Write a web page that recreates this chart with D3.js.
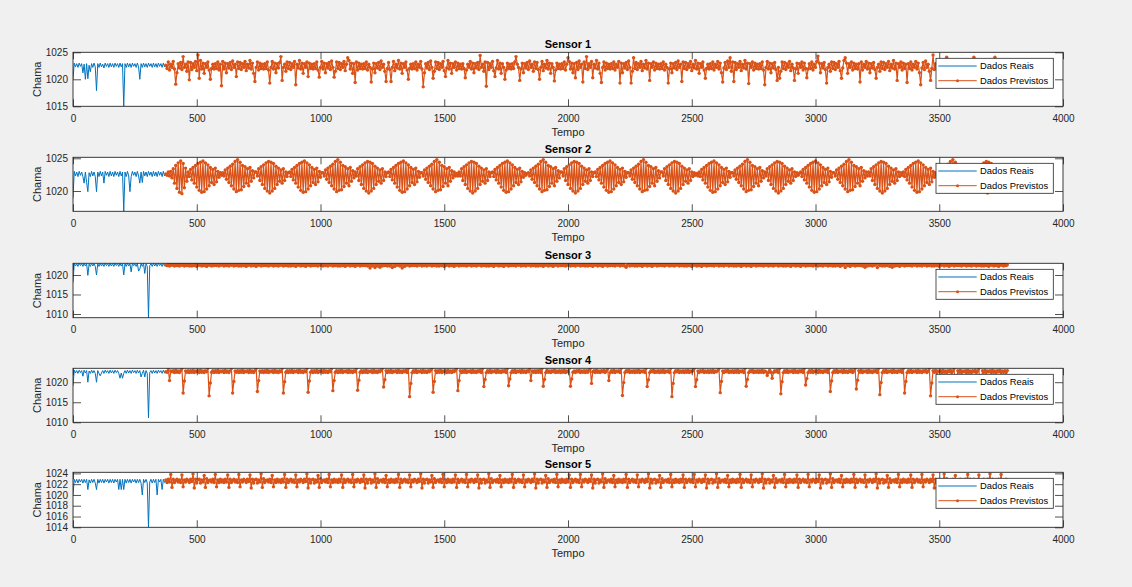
<!DOCTYPE html>
<html><head><meta charset="utf-8">
<script src="https://cdn.jsdelivr.net/npm/d3@7"></script>
<style>body{margin:0;background:#f0f0f0}svg{display:block}</style>
</head><body><svg id="c" width="1132" height="587"></svg>
<script>
// ---------- data ----------
const sensorNames = ["Sensor 1","Sensor 2","Sensor 3","Sensor 4","Sensor 5"];
const xTicks = [0,500,1000,1500,2000,2500,3000,3500,4000];
const yDomains = [[1015,1025],[1016.9,1025.15],[1009.05,1023.0],[1010,1023.47],[1014,1024.2]];
const yTicks = [[1015,1020,1025],[1020,1025],[1010,1015,1020],[1010,1015,1020],[1014,1016,1018,1020,1022,1024]];
const legendLabels = ["Dados Reais","Dados Previstos"];
const xLabel = "Tempo", yLabel = "Chama";
const realStart = 0, realStep = 5;     // time of real samples
const predStart = 375, predStep = 5;   // time of predicted samples

const s1Real = [1020.0,1023.0,1022.3,1022.9,1022.2,1023.0,1022.4,1022.9,1021.2,1022.8,
 1020.0,1022.9,1020.1,1022.6,1021.4,1022.9,1022.2,1023.0,1022.3,1017.9,
 1022.9,1022.2,1023.0,1022.3,1022.8,1022.1,1023.0,1022.4,1022.9,1022.2,
 1023.0,1022.3,1022.9,1022.2,1023.0,1022.4,1022.9,1022.2,1023.0,1022.3,
 1022.9,1015.0,1022.9,1022.2,1023.0,1022.3,1022.9,1022.2,1023.0,1022.4,
 1022.9,1022.2,1023.0,1022.3,1020.0,1022.9,1022.2,1023.0,1022.3,1022.9,
 1022.2,1023.0,1022.4,1022.9,1022.2,1023.0,1022.3,1022.9,1022.2,1023.0,
 1022.4,1022.9,1022.2,1023.0,1022.3,1022.6];
const s2Real = [1018.9,1023.0,1022.3,1022.9,1022.2,1023.0,1022.4,1022.9,1022.2,1021.2,
 1022.9,1021.3,1019.9,1022.8,1022.2,1023.0,1022.3,1022.9,1022.2,1019.9,
 1022.9,1022.2,1023.0,1022.3,1022.9,1021.2,1023.0,1022.4,1022.9,1022.2,
 1023.0,1022.3,1022.9,1022.2,1023.0,1022.4,1022.9,1022.2,1023.0,1022.3,
 1022.9,1016.9,1022.9,1022.2,1023.0,1022.3,1019.9,1022.2,1023.0,1022.4,
 1022.9,1022.2,1023.0,1022.3,1021.2,1022.9,1021.3,1023.0,1022.3,1022.9,
 1022.2,1023.0,1022.4,1022.9,1022.2,1023.0,1022.3,1022.9,1022.2,1023.0,
 1022.4,1022.9,1022.2,1023.0,1022.3,1022.6];
const s3Real = [1018.1,1023.0,1022.3,1022.9,1022.2,1023.0,1022.4,1022.9,1022.2,1023.0,
 1022.3,1022.9,1019.9,1022.8,1022.2,1023.0,1022.3,1022.9,1022.2,1020.0,
 1022.9,1022.2,1023.0,1022.3,1022.9,1022.2,1023.0,1022.4,1022.9,1022.2,
 1023.0,1022.3,1022.9,1022.2,1023.0,1022.4,1022.9,1022.2,1023.0,1022.3,
 1022.9,1020.0,1022.9,1022.2,1023.0,1022.3,1022.9,1020.8,1023.0,1022.4,
 1022.9,1022.2,1023.0,1021.0,1021.5,1022.9,1022.2,1023.0,1020.4,1022.9,
 1022.2,1009.1,1022.4,1022.9,1022.2,1023.0,1022.3,1022.9,1022.2,1023.0,
 1022.4,1022.9,1022.2,1023.0,1022.3,1022.6];
const s4Real = [1019.1,1023.0,1022.3,1022.9,1022.2,1023.0,1022.4,1022.9,1021.5,1023.0,
 1022.3,1022.9,1020.0,1022.8,1022.2,1023.0,1022.3,1022.9,1022.2,1020.0,
 1022.9,1022.2,1021.6,1022.3,1022.9,1022.2,1023.0,1022.4,1022.9,1022.2,
 1023.0,1022.3,1022.9,1022.2,1023.0,1022.4,1022.9,1022.2,1021.0,1022.3,
 1021.0,1022.2,1022.9,1022.2,1023.0,1022.3,1022.9,1022.2,1023.0,1022.4,
 1022.9,1022.2,1023.0,1022.3,1022.9,1021.3,1022.2,1023.0,1021.3,1022.9,
 1022.2,1011.1,1022.4,1022.9,1022.2,1023.0,1022.3,1022.9,1022.2,1023.0,
 1022.4,1022.9,1022.2,1023.0,1022.3,1022.6];
const s5Real = [1020.0,1022.9,1022.3,1022.9,1022.2,1022.9,1022.4,1022.9,1022.2,1022.9,
 1022.3,1022.9,1021.0,1022.8,1022.2,1022.9,1022.3,1022.9,1022.2,1021.0,
 1022.9,1022.2,1022.9,1022.3,1022.9,1022.2,1022.9,1022.4,1022.9,1022.2,
 1022.9,1022.3,1022.9,1022.2,1022.9,1022.4,1022.9,1021.0,1022.9,1021.0,
 1022.9,1021.0,1022.9,1022.2,1022.9,1022.3,1022.9,1022.2,1022.9,1022.4,
 1022.9,1022.2,1022.9,1022.3,1022.9,1022.2,1020.0,1022.9,1022.3,1022.9,
 1022.2,1014.0,1022.4,1022.9,1022.2,1022.9,1022.3,1022.9,1020.0,1022.9,
 1022.4,1022.9,1021.0,1022.9,1022.3,1022.6];

const s1Pred = [
 1022.6,1022.0,1023.2,1021.7,1022.8,1022.2,1023.3,1021.9,1019.1,1021.2,1022.9,1022.1,1023.1,1021.8,1024.2,1022.2,1022.8,1021.5,1023.2,1019.9,
 1023.1,1021.8,1022.9,1022.2,1023.3,1021.6,1024.5,1020.2,1023.5,1021.9,1023.0,1021.1,1022.9,1022.2,1023.2,1021.7,1020.0,1022.0,1022.8,1021.9,
 1022.9,1022.0,1023.2,1021.7,1022.8,1018.8,1023.3,1021.9,1023.0,1021.2,1022.9,1022.1,1023.1,1021.8,1023.4,1022.2,1022.8,1020.5,1023.2,1022.0,
 1023.1,1021.8,1022.9,1022.2,1023.3,1021.6,1022.8,1022.1,1023.5,1021.9,1023.0,1021.1,1019.6,1022.2,1023.2,1021.7,1023.0,1022.0,1022.8,1021.9,
 1022.9,1022.0,1023.2,1021.7,1019.3,1022.2,1023.3,1021.9,1023.0,1021.2,1022.9,1022.1,1023.1,1024.2,1019.8,1022.2,1022.8,1021.5,1023.2,1022.0,
 1023.1,1021.8,1022.9,1022.2,1023.3,1019.0,1022.8,1022.1,1023.5,1021.9,1023.0,1021.1,1022.9,1022.2,1023.2,1020.5,1023.0,1022.0,1022.8,1021.9,
 1022.9,1022.0,1023.2,1021.7,1020.4,1022.2,1023.3,1021.9,1023.0,1021.2,1022.9,1022.1,1023.1,1021.8,1023.4,1022.2,1020.4,1021.5,1023.2,1022.0,
 1023.1,1021.8,1022.9,1022.2,1023.3,1021.6,1022.8,1024.0,1023.5,1021.9,1023.0,1021.1,1022.9,1019.4,1023.2,1021.7,1023.0,1022.0,1022.8,1021.9,
 1022.9,1022.0,1023.2,1021.7,1022.8,1022.2,1019.5,1021.9,1023.0,1021.2,1022.9,1022.1,1023.1,1021.8,1023.4,1022.2,1022.8,1021.5,1019.6,1022.0,
 1023.1,1021.8,1019.6,1022.2,1023.3,1021.6,1022.8,1022.1,1023.5,1021.9,1023.0,1021.1,1022.9,1022.2,1023.2,1021.7,1020.0,1022.0,1022.8,1021.9,
 1022.9,1022.0,1023.2,1021.7,1022.8,1022.2,1023.3,1021.9,1018.6,1021.2,1022.9,1022.1,1023.1,1021.8,1023.4,1022.2,1020.2,1021.5,1023.2,1022.0,
 1023.1,1021.8,1022.9,1022.2,1023.3,1021.6,1020.5,1022.1,1023.5,1021.9,1023.0,1021.1,1022.9,1022.2,1023.2,1021.7,1023.0,1022.0,1022.8,1021.9,
 1022.9,1022.0,1020.3,1021.7,1022.8,1022.2,1023.3,1021.9,1023.0,1021.2,1022.9,1022.1,1023.1,1021.8,1024.4,1022.2,1022.8,1021.5,1023.2,1018.7,
 1023.1,1021.8,1022.9,1022.2,1023.3,1021.6,1020.5,1022.1,1023.5,1021.9,1023.0,1021.1,1022.9,1022.2,1020.0,1021.7,1023.0,1022.0,1022.8,1021.9,
 1022.9,1022.0,1023.2,1024.2,1022.8,1022.2,1019.8,1021.9,1023.0,1021.2,1022.9,1022.1,1023.1,1021.8,1023.4,1022.2,1022.8,1021.5,1023.2,1022.0,
 1023.1,1021.8,1020.0,1022.2,1023.3,1021.6,1022.8,1022.1,1023.5,1021.9,1023.0,1021.1,1022.9,1022.2,1019.7,1021.7,1023.0,1022.0,1022.8,1021.9,
 1022.9,1022.0,1023.2,1021.7,1022.8,1024.0,1023.3,1021.9,1023.0,1021.2,1022.9,1020.3,1023.1,1021.8,1023.4,1022.2,1022.8,1019.5,1023.2,1022.0,
 1024.2,1021.8,1022.9,1022.2,1023.3,1020.3,1022.8,1022.1,1023.5,1021.9,1023.0,1021.1,1019.4,1022.2,1023.2,1021.7,1023.0,1022.0,1022.8,1021.9,
 1022.9,1022.0,1023.2,1021.7,1022.8,1022.2,1023.3,1019.3,1023.0,1021.2,1022.9,1022.1,1023.1,1021.8,1023.4,1022.2,1019.3,1021.5,1024.0,1022.0,
 1023.1,1021.8,1022.9,1022.2,1023.3,1021.6,1022.8,1022.1,1023.5,1021.9,1023.0,1019.8,1022.9,1022.2,1023.2,1021.7,1023.0,1022.0,1022.8,1021.9,
 1022.9,1022.0,1023.2,1021.7,1022.8,1022.2,1019.3,1021.9,1023.0,1021.2,1022.9,1022.1,1023.1,1021.8,1023.4,1022.2,1022.8,1019.6,1023.2,1022.0,
 1023.1,1021.8,1022.9,1022.2,1023.3,1021.6,1022.8,1022.1,1023.5,1021.9,1023.0,1021.1,1022.9,1022.2,1023.2,1021.7,1020.2,1022.0,1022.8,1021.9,
 1022.9,1022.0,1023.2,1021.7,1022.8,1022.2,1023.3,1021.9,1023.0,1021.2,1019.5,1022.1,1023.1,1021.8,1023.4,1022.2,1024.0,1021.5,1023.2,1019.6,
 1023.1,1021.8,1022.9,1022.2,1023.3,1021.6,1022.8,1022.1,1023.5,1021.9,1023.0,1019.2,1022.9,1022.2,1023.2,1021.7,1023.0,1022.0,1022.8,1021.9,
 1022.9,1022.0,1023.2,1021.7,1019.0,1022.2,1023.3,1021.9,1023.0,1021.2,1022.9,1022.1,1023.1,1021.8,1019.8,1022.2,1020.2,1021.5,1023.2,1022.0,
 1023.1,1021.8,1022.9,1022.2,1023.3,1021.6,1022.8,1022.1,1019.8,1021.9,1023.0,1021.1,1022.9,1022.2,1023.2,1021.7,1023.0,1022.0,1020.3,1021.9,
 1022.9,1022.0,1023.2,1021.7,1022.8,1022.2,1023.3,1024.3,1023.0,1021.2,1022.9,1022.1,1023.1,1021.8,1019.3,1022.2,1022.8,1021.5,1023.2,1022.0,
 1023.1,1021.8,1022.9,1022.2,1023.3,1021.6,1020.2,1022.1,1023.5,1024.0,1023.0,1021.1,1022.9,1022.2,1023.2,1021.7,1023.0,1022.0,1022.8,1021.9,
 1022.9,1019.5,1023.2,1021.7,1022.8,1022.2,1023.3,1021.9,1023.0,1021.2,1022.9,1022.1,1023.1,1021.8,1020.2,1022.2,1022.8,1021.5,1023.2,1022.0,
 1023.1,1021.8,1022.9,1022.2,1023.3,1021.6,1022.8,1022.1,1023.5,1021.9,1023.0,1019.8,1022.9,1022.2,1023.2,1021.7,1023.0,1022.0,1022.8,1019.4,
 1022.9,1022.0,1023.2,1021.7,1022.8,1022.2,1023.3,1021.9,1023.0,1021.2,1019.0,1022.1,1023.1,1021.8,1023.4,1022.2,1022.8,1021.5,1019.8,1022.0,
 1024.5,1021.8,1022.9,1022.2,1023.3,1021.6,1022.8,1022.1,1023.5,1021.9,1023.0,1024.1,1019.5,1022.2,1023.2,1021.7,1023.0,1022.0,1022.8,1021.9,
 1022.9,1022.0,1023.2,1021.7,1022.8,1019.7,1023.3,1021.9,1023.0,1021.2,1022.9,1022.1,1023.1,1024.1,1023.4,1022.2,1022.8,1021.5,1023.2,1022.0,
 1023.1,1019.6,1022.9,1022.2,1023.3,1021.6,1022.8,1022.1,1023.5,1021.9,1024.1,1021.1,1022.9,1019.4,1023.2,1021.7,1023.0,1022.0,1022.8,1021.9,
 1022.6];

const s2Pred = [
 1022.6,1022.4,1022.9,1022.3,1023.0,1022.0,1023.4,1021.2,1023.9,1020.4,1024.3,1019.8,1024.6,1019.6,1024.2,1020.5,1023.5,1021.5,
 1022.9,1022.2,1023.3,1021.7,1023.6,1021.2,1023.9,1020.6,1024.2,1020.1,1024.4,1019.8,1024.6,1019.9,1024.3,1020.3,1024.0,1020.8,1023.6,1021.3,1023.3,1021.0,1023.5,1021.4,1023.0,1022.1,1022.8,1022.4,
 1022.8,1022.3,1023.2,1021.8,1023.5,1021.3,1023.8,1020.8,1024.1,1020.3,1024.5,1019.9,1024.8,1020.1,1024.4,1020.2,1023.9,1020.7,1023.7,1021.2,1023.4,1020.8,1023.6,1021.5,1023.1,1022.0,1022.9,
 1022.9,1022.3,1023.4,1021.6,1023.7,1021.0,1024.0,1020.4,1024.3,1020.0,1024.5,1019.7,1024.4,1020.0,1024.2,1020.4,1023.8,1021.0,1023.5,1021.5,1023.2,1021.2,1023.4,1021.6,1022.9,1022.2,1022.8,
 1022.9,1022.2,1023.3,1021.7,1023.6,1021.2,1023.9,1020.6,1024.2,1020.1,1024.4,1019.8,1024.6,1019.9,1024.3,1020.3,1024.0,1020.8,1023.6,1021.3,1023.3,1021.0,1023.5,1021.4,1023.0,1022.1,1022.8,
 1022.8,1022.3,1023.2,1021.8,1023.5,1021.3,1023.8,1020.8,1024.1,1020.3,1024.5,1019.9,1024.8,1020.1,1024.4,1020.2,1023.9,1020.7,1023.7,1021.2,1023.4,1020.8,1023.6,1021.5,1023.1,1022.0,
 1022.9,1022.3,1023.4,1021.6,1023.7,1021.0,1024.0,1020.4,1024.3,1020.0,1024.5,1019.7,1024.4,1020.0,1024.2,1020.4,1023.8,1021.0,1023.5,1021.5,1023.2,1021.2,1023.4,1021.6,1022.9,1022.2,1022.8,
 1022.9,1022.2,1023.3,1021.7,1023.6,1021.2,1023.9,1020.6,1024.2,1020.1,1024.4,1019.8,1024.6,1019.9,1024.3,1020.3,1024.0,1020.8,1023.6,1021.3,1023.3,1021.0,1023.5,1021.4,1023.0,1022.1,1022.8,
 1022.8,1022.3,1023.2,1021.8,1023.5,1021.3,1023.8,1020.8,1024.1,1020.3,1024.5,1019.9,1024.8,1020.1,1024.4,1020.2,1023.9,1020.7,1023.7,1021.2,1023.4,1020.8,1023.6,1021.5,1023.1,1022.0,1022.9,1022.3,1022.7,1022.3,
 1022.9,1022.3,1023.4,1021.6,1023.7,1021.0,1024.0,1020.4,1024.3,1020.0,1024.5,1019.7,1024.4,1020.0,1024.2,1020.4,1023.8,1021.0,1023.5,1021.5,1023.2,1021.2,1023.4,1021.6,1022.9,1022.2,1022.8,
 1022.9,1022.2,1023.3,1021.7,1023.6,1021.2,1023.9,1020.6,1024.2,1020.1,1024.4,1019.8,1024.6,1019.9,1024.3,1020.3,1024.0,1020.8,1023.6,1021.3,1023.3,1021.0,1023.5,1021.4,1023.0,1022.1,1022.8,1022.4,1022.7,
 1022.8,1022.3,1023.2,1021.8,1023.5,1021.3,1023.8,1020.8,1024.1,1020.3,1024.5,1019.9,1024.8,1020.1,1024.4,1020.2,1023.9,1020.7,1023.7,1021.2,1023.4,1020.8,1023.6,1021.5,1023.1,1022.0,1022.9,
 1022.9,1022.3,1023.4,1021.6,1023.7,1021.0,1024.0,1020.4,1024.3,1020.0,1024.5,1019.7,1024.4,1020.0,1024.2,1020.4,1023.8,1021.0,1023.5,1021.5,1023.2,1021.2,1023.4,1021.6,1022.9,1022.2,1022.8,
 1022.9,1022.2,1023.3,1021.7,1023.6,1021.2,1023.9,1020.6,1024.2,1020.1,1024.4,1019.8,1024.6,1019.9,1024.3,1020.3,1024.0,1020.8,1023.6,1021.3,1023.3,1021.0,1023.5,1021.4,1023.0,1022.1,1022.8,
 1022.8,1022.3,1023.2,1021.8,1023.5,1021.3,1023.8,1020.8,1024.1,1020.3,1024.5,1019.9,1024.8,1020.1,1024.4,1020.2,1023.9,1020.7,1023.7,1021.2,1023.4,1020.8,1023.6,1021.5,1023.1,1022.0,1022.9,
 1022.9,1022.3,1023.4,1021.6,1023.7,1021.0,1024.0,1020.4,1024.3,1020.0,1024.5,1019.7,1024.4,1020.0,1024.2,1020.4,1023.8,1021.0,1023.5,1021.5,1023.2,1021.2,1023.4,1021.6,1022.9,1022.2,1022.8,1022.4,1022.7,1022.3,
 1022.9,1022.2,1023.3,1021.7,1023.6,1021.2,1023.9,1020.6,1024.2,1020.1,1024.4,1019.8,1024.6,1019.9,1024.3,1020.3,1024.0,1020.8,1023.6,1021.3,1023.3,1021.0,1023.5,1021.4,1023.0,1022.1,1022.8,
 1022.8,1022.3,1023.2,1021.8,1023.5,1021.3,1023.8,1020.8,1024.1,1020.3,1024.5,1019.9,1024.8,1020.1,1024.4,1020.2,1023.9,1020.7,1023.7,1021.2,1023.4,1020.8,1023.6,1021.5,1023.1,1022.0,
 1022.9,1022.3,1023.4,1021.6,1023.7,1021.0,1024.0,1020.4,1024.3,1020.0,1024.5,1019.7,1024.4,1020.0,1024.2,1020.4,1023.8,1021.0,1023.5,1021.5,1023.2,1021.2,1023.4,1021.6,1022.9,1022.2,1022.8,1022.4,1022.7,
 1022.9,1022.2,1023.3,1021.7,1023.6,1021.2,1023.9,1020.6,1024.2,1020.1,1024.4,1019.8,1024.6,1019.9,1024.3,1020.3,1024.0,1020.8,1023.6,1021.3,1023.3,1021.0,1023.5,1021.4,1023.0,1022.1,1022.8,
 1022.8,1022.3,1023.2,1021.8,1023.5,1021.3,1023.8,1020.8,1024.1,1020.3,1024.5,1019.9,1024.8,1020.1,1024.4,1020.2,1023.9,1020.7,1023.7,1021.2,1023.4,1020.8,1023.6,1021.5,1023.1,1022.0,1022.9,1022.3,
 1022.9,1022.3,1023.4,1021.6,1023.7,1021.0,1024.0,1020.4,1024.3,1020.0,1024.5,1019.7,1024.4,1020.0,1024.2,1020.4,1023.8,1021.0,1023.5,1021.5,1023.2,1021.2,1023.4,1021.6,1022.9,1022.2,1022.8,1022.4,
 1022.9,1022.2,1023.3,1021.7,1023.6,1021.2,1023.9,1020.6,1024.2,1020.1,1024.4,1019.8,1024.6,1019.9,1024.3,1020.3,1024.0,1020.8,1023.6,1021.3,1023.3,1021.0,1023.5,1021.4,1023.0,1022.1,1022.8,1022.4,
 1022.8,1022.3,1023.2,1021.8,1023.5,1021.3,1023.8,1020.8,1024.1,1020.3,1024.5,1019.9,1024.8,1020.1,1024.4,1020.2,1023.9,1020.7,1023.7,1021.2,1023.4,1020.8,1023.6,1021.5,1023.1,1022.0,1022.9,1022.3,1022.7,
 1022.9,1022.3,1023.4,1021.6,1023.7,1021.0,1024.0,1020.4,1024.3,1020.0,1024.5,1019.7,1024.4,1020.0,1024.2,1020.4,1023.8,1021.0,1023.5,1021.5,1023.2,1021.2,1023.4,1021.6,1022.9,1022.2,1022.8,1022.6];

const s3Pred = [
 1022.6,1022.4,1023.0,1022.3,1022.8,1022.5,1022.9,1022.3,1023.0,1022.4,1022.8,1022.3,1022.9,1022.5,1023.0,1022.3,1022.8,1022.4,1022.9,1022.3,
 1022.8,1022.3,1022.9,1022.4,1023.0,1022.2,1022.9,1022.5,1022.8,1022.3,1023.0,1022.4,1022.9,1022.2,1022.8,1022.5,1023.0,1022.3,1022.9,1022.4,
 1022.9,1022.4,1023.0,1022.3,1022.8,1022.5,1022.9,1022.3,1023.0,1022.4,1022.8,1022.3,1022.9,1022.5,1023.0,1022.3,1022.8,1022.4,1022.9,1022.3,
 1022.8,1022.3,1022.9,1022.4,1023.0,1022.2,1022.9,1022.5,1022.8,1022.3,1023.0,1022.4,1022.9,1022.2,1022.8,1022.5,1023.0,1022.3,1022.9,1022.4,
 1022.9,1022.4,1023.0,1022.3,1022.8,1022.5,1022.9,1022.3,1023.0,1022.4,1022.8,1022.3,1022.9,1022.5,1023.0,1022.3,1022.8,1022.4,1022.9,1022.3,
 1022.8,1022.3,1022.9,1022.4,1023.0,1022.2,1022.9,1022.5,1022.8,1022.3,1023.0,1022.4,1022.9,1022.2,1022.8,1022.5,1023.0,1022.3,1022.9,1022.4,
 1022.9,1022.4,1023.0,1022.3,1022.8,1022.5,1022.9,1022.3,1023.0,1022.4,1022.8,1022.3,1022.9,1022.5,1023.0,1022.3,1022.8,1022.4,1022.9,1022.3,
 1022.8,1022.3,1022.9,1022.4,1023.0,1022.2,1022.9,1022.5,1022.8,1022.3,1023.0,1022.4,1022.9,1022.2,1022.8,1022.5,1023.0,1022.3,1022.9,1022.4,
 1022.9,1022.4,1023.0,1022.3,1022.8,1021.8,1022.9,1022.3,1023.0,1021.9,1022.8,1022.3,1022.9,1022.0,1023.0,1022.3,1022.8,1022.4,1022.9,1022.3,
 1022.8,1022.3,1022.9,1021.9,1023.0,1022.2,1022.9,1022.5,1022.8,1022.3,1023.0,1021.8,1022.9,1022.2,1022.8,1022.5,1023.0,1022.3,1022.9,1022.4,
 1022.9,1022.4,1023.0,1022.3,1022.8,1022.5,1022.9,1022.3,1023.0,1022.4,1022.8,1022.3,1022.9,1022.5,1023.0,1022.3,1022.8,1022.4,1022.9,1022.3,
 1022.8,1022.3,1022.9,1022.4,1023.0,1022.2,1022.9,1022.5,1022.8,1022.3,1023.0,1022.4,1022.9,1022.2,1022.8,1022.5,1023.0,1022.3,1022.9,1022.4,
 1022.9,1022.4,1023.0,1022.3,1022.8,1022.5,1022.9,1022.3,1023.0,1022.4,1022.8,1022.3,1022.9,1022.5,1023.0,1022.3,1022.8,1022.4,1022.9,1022.3,
 1022.8,1022.3,1022.9,1022.4,1023.0,1022.2,1022.9,1022.5,1022.8,1022.3,1023.0,1022.4,1022.9,1022.2,1022.8,1022.5,1023.0,1022.3,1022.9,1022.4,
 1022.9,1022.4,1023.0,1022.3,1022.8,1022.5,1022.9,1022.3,1023.0,1022.4,1022.8,1022.3,1022.9,1022.5,1023.0,1022.3,1022.8,1022.4,1022.9,1022.3,
 1022.8,1022.3,1022.9,1022.4,1023.0,1022.2,1022.9,1022.5,1022.8,1022.3,1023.0,1022.4,1022.9,1022.2,1022.8,1022.5,1023.0,1022.3,1022.9,1022.4,
 1022.9,1022.4,1023.0,1022.3,1022.8,1022.5,1022.9,1022.3,1023.0,1022.4,1022.8,1022.3,1022.9,1022.5,1023.0,1022.3,1022.8,1022.4,1022.9,1022.3,
 1022.8,1022.3,1022.9,1022.4,1023.0,1022.2,1022.9,1022.5,1022.8,1022.3,1023.0,1022.4,1022.9,1022.2,1022.8,1022.5,1023.0,1022.3,1022.9,1022.4,
 1022.9,1022.4,1023.0,1022.3,1022.8,1022.5,1022.9,1022.3,1023.0,1022.4,1022.8,1022.3,1022.0,1022.5,1023.0,1022.3,1022.8,1022.4,1022.9,1022.3,
 1022.8,1022.3,1022.9,1022.4,1023.0,1022.2,1022.9,1022.5,1022.8,1022.3,1023.0,1022.4,1022.9,1022.2,1022.8,1022.5,1023.0,1022.3,1022.9,1022.4,
 1022.9,1022.4,1023.0,1022.3,1022.8,1022.5,1022.9,1022.3,1023.0,1022.4,1022.8,1022.3,1022.9,1022.5,1023.0,1022.3,1022.8,1022.4,1022.9,1022.3,
 1022.8,1022.3,1022.9,1022.4,1023.0,1022.2,1022.9,1022.5,1022.8,1022.3,1023.0,1022.4,1022.9,1022.2,1022.8,1022.5,1023.0,1022.3,1022.9,1022.4,
 1022.9,1022.4,1023.0,1022.3,1022.8,1022.5,1022.9,1022.3,1023.0,1022.4,1022.8,1022.3,1022.9,1022.5,1023.0,1022.3,1022.8,1022.4,1022.9,1022.3,
 1022.8,1022.3,1022.9,1022.4,1023.0,1022.2,1022.9,1022.5,1022.8,1022.3,1023.0,1022.4,1022.9,1022.2,1022.8,1022.5,1023.0,1022.3,1022.9,1022.4,
 1022.9,1022.4,1023.0,1022.3,1022.8,1022.5,1022.9,1022.3,1023.0,1022.4,1022.8,1022.3,1022.9,1022.5,1023.0,1022.3,1022.8,1022.4,1022.9,1022.3,
 1022.8,1022.3,1022.9,1022.4,1023.0,1022.2,1022.9,1022.5,1022.8,1022.3,1023.0,1022.4,1022.9,1022.2,1022.8,1022.5,1023.0,1022.3,1022.9,1022.4,
 1022.9,1022.4,1023.0,1022.3,1022.8,1022.5,1022.9,1022.3,1023.0,1022.4,1022.8,1022.3,1022.9,1022.5,1023.0,1022.3,1022.8,1022.4,1022.9,1022.3,
 1022.8,1022.3,1022.9,1022.4,1023.0,1022.2,1022.9,1022.5,1022.8,1021.9,1023.0,1022.4,1022.9,1022.2,1022.8,1022.5,1023.0,1022.3,1022.9,1022.4,
 1022.9,1022.4,1023.0,1022.3,1022.8,1022.0,1022.9,1022.3,1023.0,1022.4,1022.8,1022.3,1022.9,1022.5,1023.0,1021.9,1022.8,1022.4,1022.9,1022.3,
 1022.8,1022.3,1022.9,1022.4,1023.0,1022.2,1022.9,1022.0,1022.8,1022.3,1023.0,1022.4,1022.9,1022.2,1022.8,1022.5,1023.0,1022.3,1022.9,1022.4,
 1022.9,1022.4,1023.0,1022.3,1022.8,1022.5,1022.9,1022.3,1023.0,1022.4,1022.8,1022.3,1022.9,1022.5,1023.0,1022.3,1022.8,1022.4,1022.9,1022.3,
 1022.8,1022.3,1022.9,1022.4,1023.0,1022.2,1022.9,1022.5,1022.8,1022.3,1023.0,1022.4,1022.9,1022.2,1022.8,1022.5,1023.0,1022.3,1022.9,1022.4,
 1022.9,1022.4,1023.0,1022.3,1022.8,1022.5,1022.9,1022.3,1023.0,1022.4,1022.8,1022.3,1022.9,1022.5,1023.0,1022.3,1022.8,1022.4,1022.9,1022.3,
 1022.8,1022.3,1022.9,1022.4,1023.0,1022.2,1022.9,1022.5,1022.8,1022.3,1023.0,1022.4,1022.9,1022.2,1022.8,1022.5,1023.0,1022.3,1022.9,1022.4,
 1022.6];

const s4Pred = [
 1022.6,1022.5,1023.4,1020.4,1022.8,1022.6,1022.9,1022.4,1023.0,1022.5,1022.8,1022.4,1022.9,1023.4,1017.3,1020.3,1022.8,1022.5,1022.9,1022.4,
 1022.9,1022.5,1023.0,1022.4,1022.8,1022.6,1022.9,1022.4,1023.0,1022.5,1022.8,1022.4,1022.9,1022.6,1023.5,1016.6,1019.8,1022.5,1022.9,1022.4,
 1022.9,1022.5,1023.0,1022.4,1022.8,1022.6,1022.9,1022.4,1023.0,1022.5,1022.8,1022.4,1022.9,1023.4,1017.3,1020.2,1022.8,1022.5,1022.9,1022.4,
 1022.9,1022.5,1023.0,1022.4,1022.8,1022.6,1022.9,1022.4,1023.0,1022.5,1022.8,1022.4,1022.9,1023.4,1017.7,1020.4,1022.8,1022.5,1022.9,1022.4,
 1022.9,1022.5,1023.0,1022.4,1022.8,1022.6,1022.9,1022.4,1023.0,1022.5,1022.8,1022.4,1022.9,1022.6,1023.4,1017.3,1020.1,1022.5,1022.9,1022.4,
 1022.9,1022.5,1023.0,1022.4,1022.8,1022.6,1022.9,1022.4,1023.0,1022.5,1022.8,1022.4,1022.9,1022.6,1023.4,1017.5,1020.3,1022.5,1022.9,1022.4,
 1022.9,1022.5,1023.0,1022.4,1022.8,1022.6,1022.9,1022.4,1023.0,1022.5,1022.8,1022.4,1022.9,1022.6,1023.4,1017.9,1020.4,1022.5,1022.9,1022.4,
 1022.9,1022.5,1023.0,1022.4,1022.8,1022.6,1022.9,1022.4,1023.0,1022.5,1022.8,1022.4,1022.9,1022.6,1023.4,1018.0,1020.5,1022.5,1022.9,1022.4,
 1022.9,1022.5,1023.0,1022.4,1022.8,1022.6,1022.9,1022.4,1023.0,1022.5,1022.8,1022.4,1022.9,1022.6,1023.0,1023.4,1018.8,1020.6,1022.9,1022.4,
 1022.9,1022.5,1023.0,1022.4,1022.8,1022.6,1022.9,1022.4,1023.0,1022.5,1022.8,1022.4,1022.9,1022.6,1023.0,1022.4,1023.5,1016.4,1019.7,1022.4,
 1022.9,1022.5,1023.0,1022.4,1022.8,1022.6,1022.9,1022.4,1023.0,1022.5,1022.8,1022.4,1022.9,1022.6,1023.0,1023.4,1017.5,1020.2,1022.9,1022.4,
 1022.9,1022.5,1023.0,1022.4,1022.8,1022.6,1022.9,1022.4,1023.0,1022.5,1022.8,1022.4,1022.9,1022.6,1023.0,1023.4,1017.9,1020.4,1022.9,1022.4,
 1022.9,1022.5,1023.0,1022.4,1022.8,1022.6,1022.9,1022.4,1023.0,1022.5,1022.8,1022.4,1022.9,1022.6,1023.0,1022.4,1023.4,1018.9,1020.7,1022.4,
 1022.9,1022.5,1023.0,1022.4,1022.8,1022.6,1022.9,1022.4,1023.0,1022.5,1022.8,1022.4,1022.9,1022.6,1023.0,1022.4,1023.4,1019.1,1020.8,1022.4,
 1022.9,1022.5,1023.0,1022.4,1022.8,1022.6,1022.9,1022.4,1023.0,1022.5,1022.8,1022.4,1022.9,1022.6,1023.3,1020.4,1022.8,1022.5,1022.9,1022.4,
 1022.9,1022.5,1023.0,1022.4,1023.4,1019.0,1020.7,1022.4,1023.0,1022.5,1022.8,1022.4,1022.9,1022.6,1023.0,1022.4,1022.8,1022.5,1022.9,1022.4,
 1022.9,1022.5,1023.0,1022.4,1022.8,1022.6,1023.4,1019.0,1020.8,1022.5,1022.8,1022.4,1022.9,1022.6,1023.0,1022.4,1022.8,1022.5,1022.9,1022.4,
 1022.9,1022.5,1023.0,1023.4,1019.7,1022.6,1022.9,1022.4,1023.0,1022.5,1022.8,1022.4,1022.9,1022.6,1023.0,1022.4,1022.8,1023.3,1020.4,1022.4,
 1022.9,1022.5,1023.0,1022.4,1022.8,1022.6,1022.9,1022.4,1023.5,1016.7,1019.9,1022.4,1022.9,1022.6,1023.0,1022.4,1022.8,1022.5,1022.9,1022.4,
 1022.9,1022.5,1023.0,1022.4,1022.8,1022.6,1022.9,1022.4,1023.4,1018.9,1020.6,1022.4,1022.9,1022.6,1023.0,1022.4,1022.8,1022.5,1022.9,1022.4,
 1022.9,1022.5,1023.0,1022.4,1022.8,1022.6,1022.9,1022.4,1023.5,1016.4,1019.7,1022.4,1022.9,1022.6,1023.0,1022.4,1022.8,1022.5,1022.9,1022.4,
 1022.9,1022.5,1023.0,1022.4,1022.8,1022.6,1022.9,1023.4,1018.9,1020.6,1022.8,1022.4,1022.9,1022.6,1023.0,1022.4,1022.8,1022.5,1022.9,1022.4,
 1022.9,1022.5,1023.0,1022.4,1022.8,1022.6,1022.9,1023.4,1017.4,1020.2,1022.8,1022.4,1022.9,1022.6,1023.0,1022.4,1022.8,1022.5,1022.9,1022.4,
 1022.9,1022.5,1023.0,1022.4,1022.8,1022.6,1022.9,1022.4,1023.4,1019.0,1020.7,1022.4,1022.9,1022.6,1023.0,1022.4,1022.8,1022.5,1022.9,1022.4,
 1022.9,1022.5,1023.0,1022.4,1022.8,1022.6,1021.7,1022.4,1023.0,1022.5,1021.0,1022.4,1022.9,1022.6,1023.0,1022.4,1023.4,1017.1,1020.1,1022.4,
 1022.9,1022.5,1023.0,1022.4,1022.8,1022.6,1022.9,1022.4,1023.0,1022.5,1022.8,1022.4,1022.9,1022.6,1023.0,1022.4,1023.4,1019.3,1020.9,1022.4,
 1022.9,1022.5,1023.0,1022.4,1022.8,1022.6,1022.9,1022.4,1023.0,1022.5,1022.8,1022.4,1022.9,1022.6,1023.0,1022.4,1023.4,1017.7,1020.3,1022.4,
 1022.9,1022.5,1023.0,1022.4,1022.8,1022.6,1022.9,1022.4,1023.0,1022.5,1022.8,1022.4,1022.9,1022.6,1023.0,1022.4,1022.8,1023.4,1018.3,1020.5,
 1022.9,1022.5,1023.0,1022.4,1022.8,1022.6,1022.9,1022.4,1023.0,1022.5,1022.8,1022.4,1022.9,1022.6,1023.0,1022.4,1023.5,1016.9,1019.9,1022.4,
 1022.9,1022.5,1023.0,1022.4,1022.8,1022.6,1022.9,1022.4,1023.0,1022.5,1022.8,1022.4,1022.9,1022.6,1023.0,1022.4,1023.4,1017.3,1020.2,1022.4,
 1022.9,1022.5,1023.0,1022.4,1022.8,1022.6,1022.9,1022.4,1023.0,1022.5,1022.8,1022.4,1022.9,1022.6,1023.0,1022.4,1022.8,1023.5,1016.6,1019.8,
 1022.9,1022.5,1023.0,1022.4,1022.8,1022.6,1022.9,1022.4,1023.0,1022.5,1022.8,1022.4,1022.9,1022.6,1023.0,1022.4,1022.8,1023.4,1017.5,1020.2,
 1022.9,1022.5,1023.0,1022.4,1022.8,1022.6,1022.9,1022.4,1023.0,1022.5,1022.8,1022.4,1022.9,1022.6,1023.0,1022.4,1022.8,1023.4,1017.8,1020.4,
 1022.9,1022.5,1023.0,1022.4,1022.8,1022.6,1022.9,1022.4,1023.0,1022.5,1022.8,1022.4,1022.9,1022.6,1023.0,1022.4,1022.8,1022.5,1022.9,1022.4,
 1022.9];

const s5Pred = [
 1022.8,1022.3,1022.9,1022.4,1023.8,1021.4,1022.9,1022.3,1022.7, 1022.9,1022.4,1022.8,1022.3,1023.7,1021.5,1022.8,1022.4,1022.9, 1022.7,1022.3,1022.9,1022.5,1023.9,1021.3,1022.9,1022.2,1022.8, 1022.9,1022.2,1022.8,1022.4,1023.6,1021.4,1023.0,1022.3,1022.7, 1022.8,1022.4,1022.9,1022.3,1023.8,1021.5,1022.8,1022.3,1022.9,1022.4,
 1022.8,1022.3,1022.9,1022.4,1023.7,1021.4,1022.9,1022.3,1022.7, 1022.9,1022.4,1022.8,1022.3,1023.8,1021.5,1022.8,1022.4,1022.9, 1022.7,1022.3,1022.9,1022.5,1023.7,1021.3,1022.9,1022.2,1022.8, 1022.9,1022.2,1022.8,1022.4,1023.9,1021.4,1023.0,1022.3,1022.7, 1022.8,1022.4,1022.9,1022.3,1023.6,1021.5,1022.8,1022.3,1022.9,1022.4,
 1022.8,1022.3,1022.9,1022.4,1023.8,1021.4,1022.9,1022.3,1022.7, 1022.9,1022.4,1022.8,1022.3,1023.7,1021.5,1022.8,1022.4,1022.9, 1022.7,1022.3,1022.9,1022.5,1023.9,1021.3,1022.9,1022.2,1022.8, 1022.9,1022.2,1022.8,1022.4,1023.6,1021.4,1023.0,1022.3,1022.7, 1022.8,1022.4,1022.9,1022.3,1023.8,1021.5,1022.8,1022.3,1022.9,1022.4,
 1022.8,1022.3,1022.9,1022.4,1023.7,1021.4,1022.9,1022.3,1022.7, 1022.9,1022.4,1022.8,1022.3,1023.8,1021.5,1022.8,1022.4,1022.9, 1022.7,1022.3,1022.9,1022.5,1023.7,1021.3,1022.9,1022.2,1022.8, 1022.9,1022.2,1022.8,1022.4,1023.9,1021.4,1023.0,1022.3,1022.7, 1022.8,1022.4,1022.9,1022.3,1023.6,1021.5,1022.8,1022.3,1022.9,1022.4,
 1022.8,1022.3,1022.9,1022.4,1023.8,1021.4,1022.9,1022.3,1022.7, 1022.9,1022.4,1022.8,1022.3,1023.7,1021.5,1022.8,1022.4,1022.9, 1022.7,1022.3,1022.9,1022.5,1023.9,1021.3,1022.9,1022.2,1022.8, 1022.9,1022.2,1022.8,1022.4,1023.6,1021.4,1023.0,1022.3,1022.7, 1022.8,1022.4,1022.9,1022.3,1023.8,1021.5,1022.8,1022.3,1022.9,1022.4,
 1022.8,1022.3,1022.9,1022.4,1023.7,1021.4,1022.9,1022.3,1022.7, 1022.9,1022.4,1022.8,1022.3,1023.8,1021.5,1022.8,1022.4,1022.9, 1022.7,1022.3,1022.9,1022.5,1023.7,1021.3,1022.9,1022.2,1022.8, 1022.9,1022.2,1022.8,1022.4,1023.9,1021.4,1023.0,1022.3,1022.7, 1022.8,1022.4,1022.9,1022.3,1023.6,1021.5,1022.8,1022.3,1022.9,1022.4,
 1022.8,1022.3,1022.9,1022.4,1023.8,1021.4,1022.9,1022.3,1022.7, 1022.9,1022.4,1022.8,1022.3,1023.7,1021.5,1022.8,1022.4,1022.9, 1022.7,1022.3,1022.9,1022.5,1023.9,1021.3,1022.9,1022.2,1022.8, 1022.9,1022.2,1022.8,1022.4,1023.6,1021.4,1023.0,1022.3,1022.7, 1022.8,1022.4,1022.9,1022.3,1023.8,1021.5,1022.8,1022.3,1022.9,1022.4,
 1022.8,1022.3,1022.9,1022.4,1023.7,1021.4,1022.9,1022.3,1022.7, 1022.9,1022.4,1022.8,1022.3,1023.8,1021.5,1022.8,1022.4,1022.9, 1022.7,1022.3,1022.9,1022.5,1023.7,1021.3,1022.9,1022.2,1022.8, 1022.9,1022.2,1022.8,1022.4,1023.9,1021.4,1023.0,1022.3,1022.7, 1022.8,1022.4,1022.9,1022.3,1023.6,1021.5,1022.8,1022.3,1022.9,1022.4,
 1022.8,1022.3,1022.9,1022.4,1023.8,1021.4,1022.9,1022.3,1022.7, 1022.9,1022.4,1022.8,1022.3,1023.7,1021.5,1022.8,1022.4,1022.9, 1022.7,1022.3,1022.9,1022.5,1023.9,1021.3,1022.9,1022.2,1022.8, 1022.9,1022.2,1022.8,1022.4,1023.6,1021.4,1023.0,1022.3,1022.7, 1022.8,1022.4,1022.9,1022.3,1023.8,1021.5,1022.8,1022.3,1022.9,1022.4,
 1022.8,1022.3,1022.9,1022.4,1023.7,1021.4,1022.9,1022.3,1022.7, 1022.9,1022.4,1022.8,1022.3,1023.8,1021.5,1022.8,1022.4,1022.9, 1022.7,1022.3,1022.9,1022.5,1023.7,1021.3,1022.9,1022.2,1022.8, 1022.9,1022.2,1022.8,1022.4,1023.9,1021.4,1023.0,1022.3,1022.7, 1022.8,1022.4,1022.9,1022.3,1023.6,1021.5,1022.8,1022.3,1022.9,1022.4,
 1022.8,1022.3,1022.9,1022.4,1023.8,1021.4,1022.9,1022.3,1022.7, 1022.9,1022.4,1022.8,1022.3,1023.7,1021.5,1022.8,1022.4,1022.9, 1022.7,1022.3,1022.9,1022.5,1023.9,1021.3,1022.9,1022.2,1022.8, 1022.9,1022.2,1022.8,1022.4,1023.6,1021.4,1023.0,1022.3,1022.7, 1022.8,1022.4,1022.9,1022.3,1023.8,1021.5,1022.8,1022.3,1022.9,1022.4,
 1022.8,1022.3,1022.9,1022.4,1023.7,1021.4,1022.9,1022.3,1022.7, 1022.9,1022.4,1022.8,1022.3,1023.8,1021.5,1022.8,1022.4,1022.9, 1022.7,1022.3,1022.9,1022.5,1023.7,1021.3,1022.9,1022.2,1022.8, 1022.9,1022.2,1022.8,1022.4,1023.9,1021.4,1023.0,1022.3,1022.7, 1022.8,1022.4,1022.9,1022.3,1023.6,1021.5,1022.8,1022.3,1022.9,1022.4,
 1022.8,1022.3,1022.9,1022.4,1023.8,1021.4,1022.9,1022.3,1022.7, 1022.9,1022.4,1022.8,1022.3,1023.7,1021.5,1022.8,1022.4,1022.9, 1022.7,1022.3,1022.9,1022.5,1023.9,1021.3,1022.9,1022.2,1022.8, 1022.9,1022.2,1022.8,1022.4,1023.6,1021.4,1023.0,1022.3,1022.7, 1022.8,1022.4,1022.9,1022.3,1023.8,1021.5,1022.8,1022.3,1022.9,1022.4,
 1022.8,1022.3,1022.9,1022.4,1023.7,1021.4,1022.9,1022.3,1022.7, 1022.9,1022.4,1022.8,1022.3,1023.8,1021.5,1022.8,1022.4,1022.9, 1022.7,1022.3,1022.9,1022.5,1023.7,1021.3,1022.9,1022.2,1022.8, 1022.9,1022.2,1022.8,1022.4,1023.9,1021.4,1023.0,1022.3,1022.7, 1022.8,1022.4,1022.9,1022.3,1023.6,1021.5,1022.8,1022.3,1022.9,1022.4,
 1022.8,1022.3,1022.9,1022.4,1023.8,1021.4,1022.9,1022.3,1022.7, 1022.9,1022.4,1022.8,1022.3,1023.7,1021.5,1022.8,1022.4,1022.9, 1022.7,1022.3,1022.9,1022.5,1023.9,1021.3,1022.9,1022.2,1022.8, 1022.8,1022.4,1022.9,1022.3,1023.8,1021.5,1022.8,1022.3,1022.9,1022.6];

const realSeries = [s1Real,s2Real,s3Real,s4Real,s5Real];
const predSeries = [s1Pred,s2Pred,s3Pred,s4Pred,s5Pred];

// ---------- layout ----------
const W = 1132, H = 587;
const axLeft = 73, axRight = 1063;
const axTops = [52.3,157.3,263.3,368.3,472.3];
const axHeights = [54,54,54.4,54,55];
const BLUE = "#0072BD", ORANGE = "#D95319", AXC = "#262626";
const FONT = "'Liberation Sans', Arial, Helvetica, sans-serif";

const svg = d3.select("#c");
svg.append("rect").attr("width", W).attr("height", H).attr("fill", "#f0f0f0");

const x = d3.scaleLinear().domain([0, 4000]).range([0, axRight - axLeft]);
const w = axRight - axLeft;

sensorNames.forEach((name, i) => {
  const h = axHeights[i];
  const y = d3.scaleLinear().domain(yDomains[i]).range([h, 0]);
  const g = svg.append("g").attr("transform", `translate(${axLeft},${axTops[i]})`);
  g.append("rect").attr("width", w).attr("height", h).attr("fill", "#fff");
  const cid = "clip" + i;
  g.append("clipPath").attr("id", cid).append("rect").attr("width", w).attr("height", h);
  const plot = g.append("g").attr("clip-path", `url(#${cid})`);
  const line = d3.line().x(d => x(d[0])).y(d => y(d[1]));
  const realPts = realSeries[i].map((v, j) => [realStart + j * realStep, v]);
  const predPts = predSeries[i].map((v, j) => [predStart + j * predStep, v]);
  plot.append("path").attr("d", line(realPts)).attr("fill", "none")
    .attr("stroke", BLUE).attr("stroke-width", 1.0).attr("stroke-linejoin", "round");
  plot.append("path").attr("d", line(predPts)).attr("fill", "none")
    .attr("stroke", ORANGE).attr("stroke-width", 1.2).attr("stroke-linejoin", "round");
  plot.selectAll("circle").data(predPts).join("circle")
    .attr("cx", d => x(d[0])).attr("cy", d => y(d[1])).attr("r", 1.7).attr("fill", ORANGE);

  const styleAxis = sel => {
    sel.select(".domain").remove();
    sel.selectAll("line").attr("stroke", AXC).attr("stroke-width", 0.8);
    sel.selectAll("text").attr("fill", AXC).attr("font-family", FONT).attr("font-size", 10);
  };
  g.append("g").attr("transform", `translate(0,${h})`)
    .call(d3.axisBottom(x).tickValues(xTicks).tickFormat(d3.format("d")).tickSizeInner(-7).tickSizeOuter(0).tickPadding(8.5))
    .call(styleAxis);
  g.append("g")
    .call(d3.axisTop(x).tickValues(xTicks).tickFormat("").tickSizeInner(-7).tickSizeOuter(0))
    .call(styleAxis);
  g.append("g")
    .call(d3.axisLeft(y).tickValues(yTicks[i]).tickFormat(d3.format("d")).tickSizeInner(-8).tickSizeOuter(0).tickPadding(5))
    .call(styleAxis);
  g.append("g").attr("transform", `translate(${w},0)`)
    .call(d3.axisRight(y).tickValues(yTicks[i]).tickFormat("").tickSizeInner(-8).tickSizeOuter(0))
    .call(styleAxis);
  g.append("rect").attr("width", w).attr("height", h).attr("fill", "none")
    .attr("stroke", AXC).attr("stroke-width", 0.9);

  g.append("text").attr("x", w / 2).attr("y", -4.3).attr("text-anchor", "middle")
    .attr("font-family", FONT).attr("font-size", 11).attr("font-weight", "bold").attr("fill", "#000")
    .text(name);
  g.append("text").attr("x", w / 2).attr("y", h + 29.4).attr("text-anchor", "middle")
    .attr("font-family", FONT).attr("font-size", 11).attr("fill", AXC).text(xLabel);
  g.append("text").attr("transform", `translate(${41.3 - axLeft},${h / 2}) rotate(-90)`)
    .attr("text-anchor", "middle").attr("font-family", FONT).attr("font-size", 11).attr("fill", AXC)
    .text(yLabel);

  const lg = svg.append("g").attr("transform", `translate(936,${axTops[i] + 6})`);
  lg.append("rect").attr("width", 117.3).attr("height", 30).attr("fill", "#fff")
    .attr("stroke", AXC).attr("stroke-width", 0.8);
  const rowsY = [7.7, 22.4];
  legendLabels.forEach((lab, k) => {
    const col = k === 0 ? BLUE : ORANGE;
    lg.append("line").attr("x1", 2.3).attr("x2", 40.7).attr("y1", rowsY[k]).attr("y2", rowsY[k])
      .attr("stroke", col).attr("stroke-width", 1);
    if (k === 1) lg.append("circle").attr("cx", 21.5).attr("cy", rowsY[k]).attr("r", 1.5).attr("fill", col);
    lg.append("text").attr("x", 44).attr("y", rowsY[k]).attr("dy", "0.35em")
      .attr("font-family", FONT).attr("font-size", 9.4).attr("fill", "#000").text(lab);
  });
});
</script>
</body></html>
